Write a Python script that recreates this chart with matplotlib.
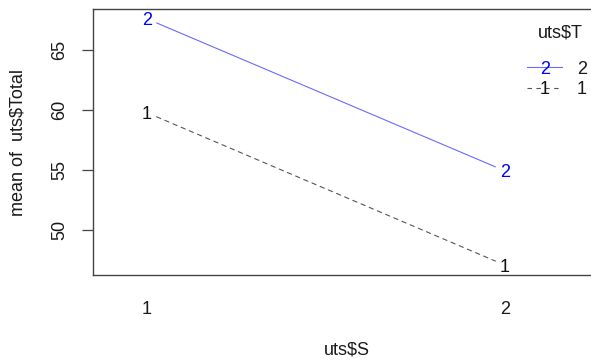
import matplotlib
matplotlib.use("Agg")
import matplotlib.pyplot as plt
import numpy as np

plt.rcParams['font.family'] = ['Liberation Sans', 'DejaVu Sans']

# Cell means of uts$Total by S (x axis) and T (trace factor)
s_levels = ["1", "2"]
t_levels = ["2", "1"]            # legend order (top to bottom)
means_t2 = [67.57, 54.9]
means_t1 = [59.75, 47.05]
y_ticks = [50, 55, 60, 65]

W, H = 591, 362
FS = 13
TXT = "#1a1a1a"
fig = plt.figure(figsize=(W / 100, H / 100), dpi=100)

left_px, right_px, top_px, bottom_px = 93, 601, 9, 275
ax = fig.add_axes([left_px / W, 1 - bottom_px / H,
                   (right_px - left_px) / W, (bottom_px - top_px) / H])

x = np.arange(1, len(s_levels) + 1)
all_vals = np.array(means_t2 + means_t1)
lo, hi = all_vals.min(), all_vals.max()
pad = 0.04 * (hi - lo)
ax.set_ylim(lo - pad, hi + pad)
ax.set_xlim(1 - 54 / 358, 2 + (right_px - 505) / 358)

series = [
    (means_t2, t_levels[0], "#0000ff", "#6a6aff", "-"),
    (means_t1, t_levels[1], "#111111", "#555555", (0, (4, 4))),
]

for vals, lab, tcol, lcol, ls in series:
    for xi, yi in zip(x, vals):
        ax.text(xi, yi, lab, color=tcol, fontsize=FS, ha="center",
                va="center_baseline")
    for i in range(len(x) - 1):
        ax.annotate("", xy=(x[i + 1], vals[i + 1]), xytext=(x[i], vals[i]),
                    arrowprops=dict(arrowstyle="-", color=lcol, lw=0.8,
                                    linestyle=ls, shrinkA=7.5, shrinkB=7.5))

ax.set_yticks(y_ticks)
ax.set_yticklabels([str(v) for v in y_ticks], rotation=90, va="center",
                   fontsize=FS, color=TXT)
ax.tick_params(axis="y", length=8, width=0.9, color="#444444", pad=10)
ax.set_xticks(x)
ax.set_xticklabels(s_levels, fontsize=FS, color=TXT)
ax.tick_params(axis="x", length=0, pad=19)

for sp in ax.spines.values():
    sp.set_color("#444444")
    sp.set_linewidth(1.0)

fig.text(18 / W, 1 - 142 / H, "mean of  uts$Total", fontsize=FS, color=TXT,
         rotation=90, ha="center", va="center")
fig.text((left_px + right_px) / 2 / W, 1 - 350 / H, "uts$S", fontsize=FS,
         color=TXT, ha="center", va="center")

# Legend for the trace factor, drawn without a frame
fig.text(560 / W, 1 - 33 / H, "uts$T", fontsize=FS, color=TXT,
         ha="center", va="center")
rows_y = [67, 88]
for (vals, lab, tcol, lcol, ls), ry in zip(series, rows_y):
    yy = 1 - ry / H
    fig.add_artist(plt.Line2D([527 / W, 562 / W], [yy, yy], color=lcol,
                              lw=0.8, linestyle=ls, transform=fig.transFigure))
    fig.text(545 / W, yy, lab, color=tcol, fontsize=FS, ha="center",
             va="center_baseline")
    fig.text(582 / W, yy, lab, color=TXT, fontsize=FS, ha="center",
             va="center_baseline")

fig.savefig("out.png", dpi=100)
